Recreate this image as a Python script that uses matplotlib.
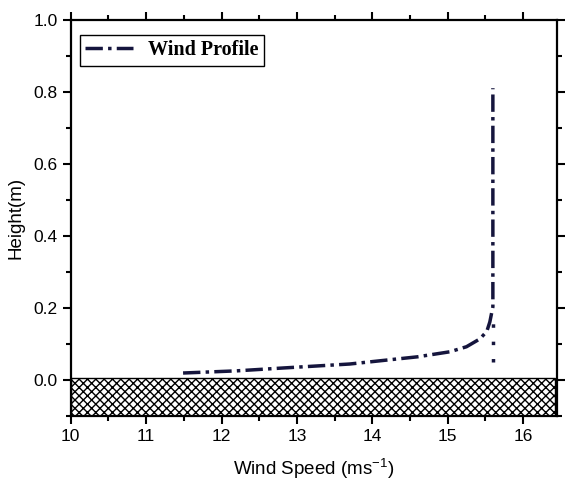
import matplotlib
matplotlib.use("Agg")
import matplotlib.pyplot as plt
from matplotlib.ticker import MultipleLocator
from matplotlib.patches import Rectangle

plt.rcParams["mathtext.fontset"] = "custom"
plt.rcParams["mathtext.rm"] = "Liberation Sans"
plt.rcParams["mathtext.it"] = "Liberation Sans"
plt.rcParams["axes.unicode_minus"] = False

# Data
speed = [11.49, 12.2, 12.82, 13.7, 14.6, 15.03, 15.25, 15.43, 15.52, 15.56, 15.6, 15.6]
height = [0.019, 0.025, 0.033, 0.044, 0.064, 0.078, 0.092, 0.114, 0.135, 0.161, 0.203, 0.81]
lower_speed = [15.6, 15.6]
lower_height = [0.05, 0.17]

ground_x = [10.0, 16.42]
ground_y = [-0.1, 0.005]

x_ticks = [10, 11, 12, 13, 14, 15, 16]
y_ticks = [0.0, 0.2, 0.4, 0.6, 0.8, 1.0]

line_color = "#15153d"

fig = plt.figure(figsize=(5.66, 4.83), dpi=100)
ax = fig.add_axes([0.125, 0.139, 0.859, 0.820])

ax.add_patch(Rectangle((ground_x[0], ground_y[0]), ground_x[1] - ground_x[0],
                       ground_y[1] - ground_y[0], facecolor="white",
                       edgecolor="black", hatch="xxxx", linewidth=1.0, zorder=1))

dash = (0, (5, 1.5, 1, 1.5))
ax.plot(speed, height, color=line_color, lw=2.5, linestyle=dash,
        label="Wind Profile", zorder=3)
ax.plot(lower_speed, lower_height, color=line_color, lw=2.5, linestyle=(0, (1, 4)), zorder=3)

ax.set_xlim(10, 16.45)
ax.set_ylim(-0.1, 1.0)
ax.set_xticks(x_ticks)
ax.set_yticks(y_ticks)
ax.set_yticklabels([f"{v:.1f}" for v in y_ticks])
ax.xaxis.set_minor_locator(MultipleLocator(0.5))
ax.yaxis.set_minor_locator(MultipleLocator(0.1))
ax.tick_params(which="both", direction="out", top=True, right=True,
               labeltop=False, labelright=False, width=1.5)
ax.tick_params(which="major", length=6, labelsize=12.5)
ax.tick_params(which="minor", length=3.5)
for lbl in ax.get_xticklabels() + ax.get_yticklabels():
    lbl.set_fontfamily("Liberation Sans")
for s in ax.spines.values():
    s.set_linewidth(1.6)

ax.set_xlabel("Wind Speed (ms$^{-1}$)", fontsize=13.5, family="Liberation Sans", labelpad=9)
ax.set_ylabel("Height(m)", fontsize=13.5, family="Liberation Sans", labelpad=6)

leg = ax.legend(loc="upper left", bbox_to_anchor=(0.018, 0.962), borderaxespad=0,
                prop={"family": "Liberation Serif", "weight": "bold", "size": 14.5},
                fancybox=False, edgecolor="black", framealpha=1, handlelength=2.4,
                handletextpad=0.7, borderpad=0.28)
leg.get_frame().set_linewidth(1.0)

fig.savefig("out.png", dpi=100)
